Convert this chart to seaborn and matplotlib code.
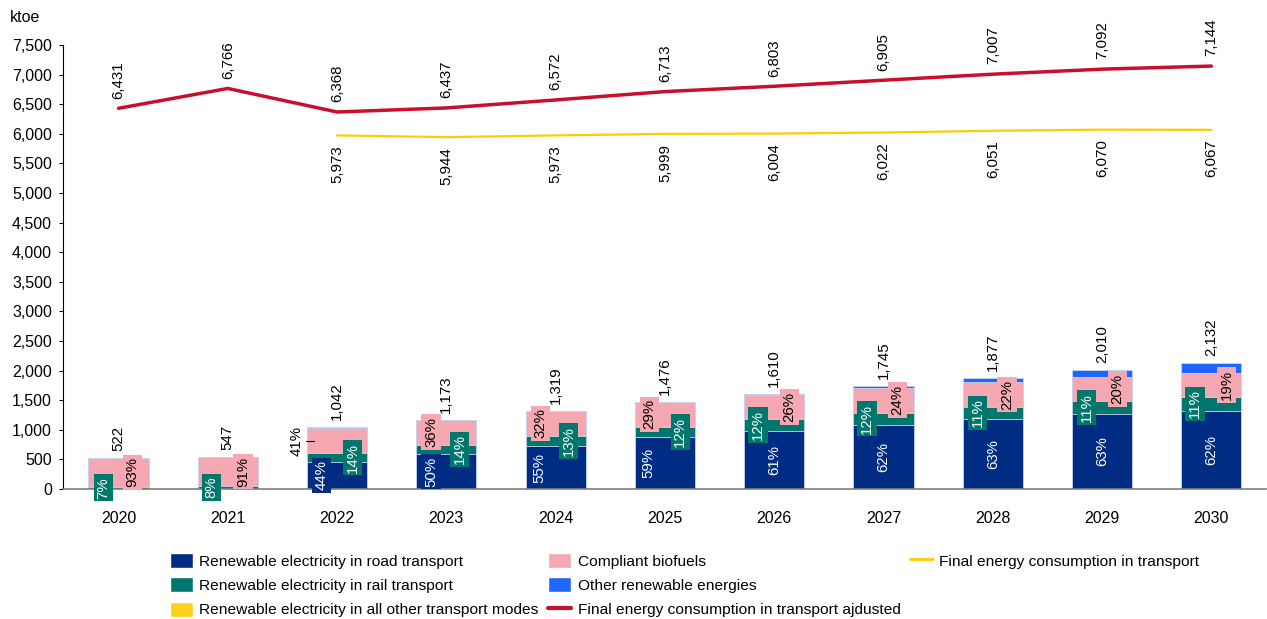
import numpy as np
import pandas as pd
import matplotlib
matplotlib.use("Agg")
import matplotlib.pyplot as plt
import seaborn as sns
from matplotlib.patches import Patch
from matplotlib.lines import Line2D
from matplotlib.ticker import FuncFormatter, MultipleLocator

# ---------------- data ----------------
years = [str(y) for y in range(2020, 2031)]
road = [0, 0, 458, 587, 725, 871, 982, 1082, 1183, 1266, 1322]
rail = [37, 44, 146, 164, 171, 177, 193, 209, 206, 221, 235]
other_modes = [0, 0, 0, 0, 0, 0, 0, 0, 0, 0, 0]
biofuels = [485, 498, 427, 422, 422, 428, 419, 419, 413, 402, 405]
other_re = [0, 5, 11, 0, 1, 0, 16, 35, 75, 121, 170]
totals = [522, 547, 1042, 1173, 1319, 1476, 1610, 1745, 1877, 2010, 2132]
road_pct = [None, None, 44, 50, 55, 59, 61, 62, 63, 63, 62]
rail_pct = [7, 8, 14, 14, 13, 12, 12, 12, 11, 11, 11]
bio_pct = [93, 91, 41, 36, 32, 29, 26, 24, 22, 20, 19]
fec_adj = [6431, 6766, 6368, 6437, 6572, 6713, 6803, 6905, 7007, 7092, 7144]
fec_years = years[2:]
fec = [5973, 5944, 5973, 5999, 6004, 6022, 6051, 6070, 6067]

labels = ["Renewable electricity in road transport",
          "Renewable electricity in rail transport",
          "Renewable electricity in all other transport modes",
          "Compliant biofuels",
          "Other renewable energies",
          "Final energy consumption in transport ajdusted",
          "Final energy consumption in transport"]

# ---------------- style ----------------
C_ROAD = "#002C83"
C_RAIL = "#00776C"
C_MODES = "#FFD11A"
C_BIO = "#F5A8B1"
C_OTHER = "#1F66FF"
C_RED = "#C8102E"
C_YEL = "#FFCC00"

sns.set_theme(style="white")
plt.rcParams["font.family"] = ["Liberation Sans", "DejaVu Sans"]
plt.rcParams["text.color"] = "black"

# label layout (horizontal offsets in category units)
road_dx = [0, 0, -0.14, -0.14, -0.15, -0.15, 0.0, 0.0, 0.0, 0.0, 0.0]
rail_dx = [-0.14, -0.15, 0.14, 0.12, 0.12, 0.14, -0.15, -0.15, -0.14, -0.14, -0.15]
bio_dx = [0.13, 0.14, -0.37, -0.14, -0.14, -0.14, 0.14, 0.13, 0.13, 0.14, 0.14]

W, H = 1267, 619
fig = plt.figure(figsize=(W / 100, H / 100), dpi=100)
ax = fig.add_axes([63 / W, 1 - 489 / H, (1266 - 63) / W, (489 - 45) / H])

df = pd.DataFrame({"year": years, "road": road, "rail": rail, "modes": other_modes,
                   "bio": biofuels, "other": other_re})
cols = ["road", "rail", "modes", "bio", "other"]
colors = [C_ROAD, C_RAIL, C_MODES, C_BIO, C_OTHER]
cum = df[cols].cumsum(axis=1)
cum["year"] = years
for col, color in reversed(list(zip(cols, colors))):
    sns.barplot(data=cum, x="year", y=col, color=color, saturation=1, width=0.55,
                errorbar=None, edgecolor="#C9D6F0", linewidth=0.6, ax=ax, order=years)

xpos = np.arange(len(years))
sns.lineplot(x=xpos, y=fec_adj, color=C_RED, linewidth=2.5, ax=ax, sort=False)
sns.lineplot(x=xpos[2:], y=fec, color=C_YEL, linewidth=1.6, ax=ax, sort=False)

FS = 10.8
# totals
for i, t in enumerate(totals):
    ax.annotate(f"{t:,}", (i, t), xytext=(0, 5), textcoords="offset points",
                rotation=90, ha="center", va="bottom", fontsize=FS)
# line labels
for i, v in enumerate(fec_adj):
    ax.annotate(f"{v:,}", (i, v), xytext=(0, 7), textcoords="offset points",
                rotation=90, ha="center", va="bottom", fontsize=FS)
for j, v in enumerate(fec):
    ax.annotate(f"{v:,}", (j + 2, v), xytext=(0, -7), textcoords="offset points",
                rotation=90, ha="center", va="top", fontsize=FS)

def boxed(x, y, s, fc, tc):
    ax.text(x, y, s, rotation=90, ha="center", va="center", fontsize=FS, color=tc,
            bbox=dict(boxstyle="square,pad=0.18", fc=fc, ec="none"), zorder=5)

for i in range(len(years)):
    if road_pct[i] is not None:
        boxed(i + road_dx[i], road[i] / 2, f"{road_pct[i]}%", C_ROAD, "white")
    base = road[i]
    boxed(i + rail_dx[i], base + rail[i] / 2, f"{rail_pct[i]}%", C_RAIL, "white")
    base += rail[i] + other_modes[i]
    yb = base + biofuels[i] / 2
    if bio_dx[i] < -0.3:
        ax.text(i + bio_dx[i], yb, f"{bio_pct[i]}%", rotation=90, ha="center",
                va="center", fontsize=FS, color="black", zorder=5)
        ax.plot([i - 0.285, i - 0.215], [yb, yb], color="black", lw=0.8, zorder=5)
    else:
        boxed(i + bio_dx[i], yb, f"{bio_pct[i]}%", C_BIO, "black")

# axes
ax.set_xlim(-0.508, 10.5)
ax.set_ylim(0, 7500)
ax.yaxis.set_major_locator(MultipleLocator(500))
ax.yaxis.set_major_formatter(FuncFormatter(lambda v, p: f"{v:,.0f}"))
ax.set_xlabel("")
ax.set_ylabel("")
for s in ["top", "right"]:
    ax.spines[s].set_visible(False)
ax.spines["left"].set_color("black")
ax.spines["left"].set_linewidth(0.8)
ax.spines["bottom"].set_color("#808080")
ax.spines["bottom"].set_linewidth(1.2)
ax.tick_params(axis="y", direction="out", length=3, width=0.8, color="black",
               labelsize=11.5, pad=5, left=True, labelcolor="black")
ax.tick_params(axis="x", length=0, labelsize=11.5, pad=16, labelcolor="black")

fig.text(10 / W, 1 - 17 / H, "ktoe", ha="left", va="center", fontsize=11.5)

blank = Patch(fc="none", ec="none")
handles = [Patch(fc=C_ROAD), Patch(fc=C_RAIL), Patch(fc=C_MODES),
           Patch(fc=C_BIO), Patch(fc=C_OTHER), Line2D([], [], color=C_RED, lw=3),
           Line2D([], [], color=C_YEL, lw=2), blank, blank]
leg_labels = labels + ["", ""]
fig.legend(handles, leg_labels, ncol=3, loc="upper left",
           bbox_to_anchor=(170 / W, 1 - 553 / H),
           frameon=False, fontsize=11.15, handlelength=1.5, handleheight=1.1,
           handletextpad=0.4, labelspacing=0.56, columnspacing=0.6,
           borderpad=0, borderaxespad=0)

fig.savefig("out.png", dpi=100)
